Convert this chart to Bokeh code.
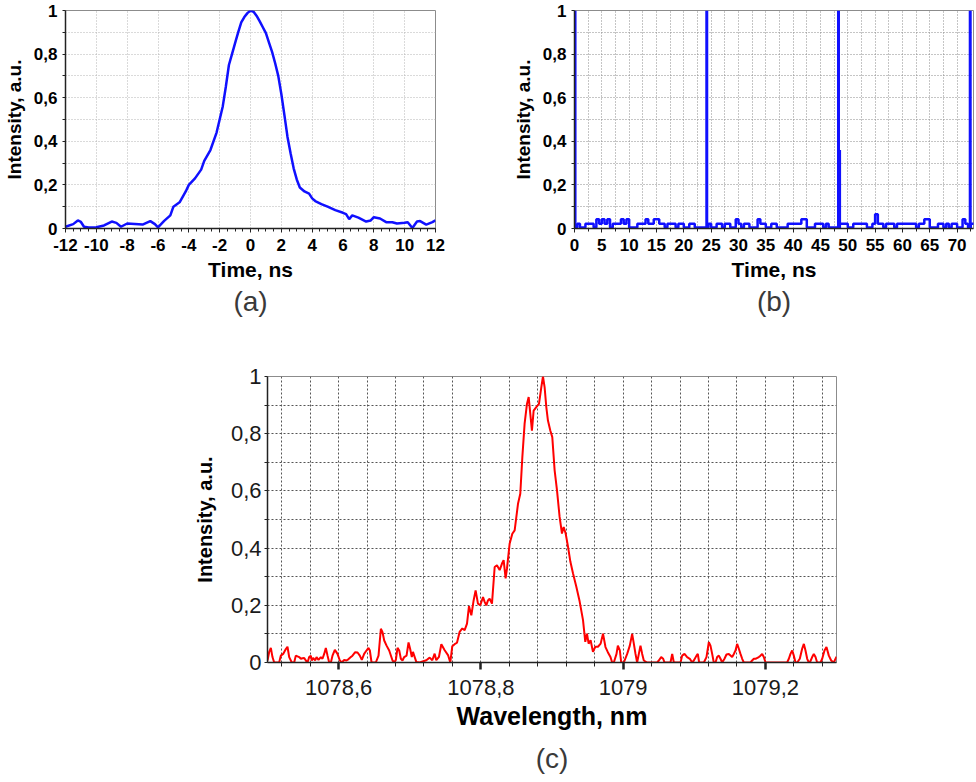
from bokeh.plotting import figure
from bokeh.models import Range1d, FixedTicker, CustomJSTickFormatter, Title
from bokeh.layouts import column, row
from bokeh.embed import file_html
from bokeh.resources import INLINE

FONT = "Liberation Sans"

# ---------------- (a) single pulse ----------------
pulse_t = [-12, -11.5, -11.2, -11, -10.8, -10.5, -10, -9.5, -9, -8.7, -8.4, -8, -7.5, -7,
           -6.5, -6.2, -6.0, -5.6, -5.2, -5.0, -4.6, -4.2, -4.0, -3.6, -3.2, -3.0, -2.6,
           -2.2, -2.0, -1.8, -1.6, -1.4, -1.2, -1.0, -0.8, -0.6, -0.4, -0.2, 0, 0.2, 0.4,
           0.6, 0.8, 1.0, 1.2, 1.4, 1.6, 1.8, 2.0, 2.2, 2.4, 2.6, 2.8, 3.0, 3.2, 3.5, 3.8,
           4.0, 4.2, 4.6, 5.0, 5.5, 6.0, 6.2, 6.4, 6.6, 7.0, 7.5, 7.8, 8.0, 8.4, 8.8, 9.2,
           9.5, 10, 10.2, 10.5, 10.8, 11.0, 11.4, 11.8, 12]
pulse_i = [0.008, 0.02, 0.037, 0.03, 0.008, 0.005, 0.006, 0.014, 0.032, 0.026, 0.008, 0.023,
           0.021, 0.018, 0.034, 0.02, 0.005, 0.035, 0.06, 0.10, 0.12, 0.17, 0.20, 0.23, 0.27,
           0.31, 0.36, 0.44, 0.50, 0.56, 0.65, 0.75, 0.80, 0.85, 0.90, 0.945, 0.97, 0.988,
           1.0, 0.994, 0.975, 0.95, 0.923, 0.896, 0.853, 0.81, 0.758, 0.70, 0.617, 0.52,
           0.42, 0.345, 0.276, 0.225, 0.188, 0.17, 0.16, 0.138, 0.126, 0.112, 0.10, 0.084,
           0.072, 0.066, 0.043, 0.06, 0.05, 0.032, 0.037, 0.052, 0.046, 0.029, 0.029, 0.023,
           0.026, 0.029, 0.002, 0.032, 0.034, 0.018, 0.029, 0.037]
a_xticks = [-12, -10, -8, -6, -4, -2, 0, 2, 4, 6, 8, 10, 12]
y_ticks = [0, 0.2, 0.4, 0.6, 0.8, 1.0]
y_minor = [0.1, 0.3, 0.5, 0.7, 0.9]

# ---------------- (b) pulse train ----------------
noise_t = [0.0, 0.5, 1.0, 2.0, 3.5, 4.0, 4.5, 5.0, 5.5, 6.0, 6.5, 7.0, 8.5, 9.0, 9.5, 10.0,
           11.5, 13.0, 13.5, 14.5, 15.5, 16.5, 17.0, 18.5, 19.0, 20.0, 21.0, 22.0, 24.5, 25.0,
           26.0, 27.0, 27.5, 28.5, 29.5, 30.0, 30.5, 31.0, 32.0, 33.5, 34.0, 35.0, 36.0, 37.0,
           39.0, 41.5, 42.5, 44.0, 45.5, 46.0, 46.5, 48.5, 50.0, 51.0, 53.5, 54.5, 55.0, 55.5,
           56.5, 57.0, 58.5, 59.0, 62.5, 63.0, 64.0, 65.0, 66.5, 67.5, 68.0, 68.5, 69.0, 70.0,
           71.0, 71.5, 72.0, 72.5, 73.5]
noise_i = [0.005, 0.022, 0.005, 0.022, 0.005, 0.042, 0.022, 0.042, 0.022, 0.042, 0.005, 0.022,
           0.042, 0.022, 0.042, 0.005, 0.022, 0.042, 0.022, 0.042, 0.022, 0.005, 0.022, 0.005,
           0.022, 0.005, 0.022, 0.005, 0.022, 0.005, 0.022, 0.005, 0.022, 0.005, 0.042, 0.022,
           0.005, 0.022, 0.005, 0.042, 0.022, 0.005, 0.022, 0.005, 0.022, 0.042, 0.005, 0.022,
           0.005, 0.022, 0.005, 0.022, 0.005, 0.022, 0.005, 0.022, 0.065, 0.022, 0.005, 0.022,
           0.005, 0.022, 0.005, 0.022, 0.042, 0.005, 0.022, 0.005, 0.022, 0.005, 0.022, 0.005,
           0.042, 0.022, 0.005, 0.022, 0.022]
spike_t = [0.1, 24.2, 48.3, 48.5, 72.4]
spike_i = [1.0, 1.0, 1.0, 0.36, 1.0]
b_xticks = [0, 5, 10, 15, 20, 25, 30, 35, 40, 45, 50, 55, 60, 65, 70]
b_xminor = [2.5, 7.5, 12.5, 17.5, 22.5, 27.5, 32.5, 37.5, 42.5, 47.5, 52.5, 57.5, 62.5, 67.5, 72.5]

# ---------------- (c) spectrum ----------------
lam = [1078.5, 1078.5023, 1078.5047, 1078.507, 1078.5094, 1078.5164, 1078.5187, 1078.522,
       1078.5258, 1078.5281, 1078.5305, 1078.5342, 1078.5375, 1078.5398, 1078.5445, 1078.5469,
       1078.5492, 1078.5516, 1078.5539, 1078.5563, 1078.5586, 1078.5609, 1078.5623, 1078.5642,
       1078.567, 1078.5689, 1078.5717, 1078.575, 1078.5773, 1078.5797, 1078.582, 1078.5844,
       1078.5867, 1078.5891, 1078.5914, 1078.5947, 1078.5984, 1078.6017, 1078.6045, 1078.6078,
       1078.6111, 1078.614, 1078.6172, 1078.6195, 1078.6233, 1078.6266, 1078.6298, 1078.6326,
       1078.6359, 1078.6392, 1078.642, 1078.6439, 1078.6463, 1078.6523, 1078.6561, 1078.6594,
       1078.6617, 1078.6641, 1078.6674, 1078.6711, 1078.6758, 1078.6781, 1078.6805, 1078.6828,
       1078.6852, 1078.6875, 1078.6898, 1078.6922, 1078.6955, 1078.6983, 1078.7006, 1078.7029,
       1078.7045, 1078.7092, 1078.7139, 1078.7233, 1078.728, 1078.7317, 1078.735, 1078.7373,
       1078.7411, 1078.7444, 1078.7491, 1078.7538, 1078.757, 1078.7598, 1078.7631, 1078.7664,
       1078.7701, 1078.7739, 1078.7772, 1078.7805, 1078.7833, 1078.7866, 1078.7898, 1078.7926,
       1078.7959, 1078.7992, 1078.803, 1078.8053, 1078.8076, 1078.81, 1078.8123, 1078.8156,
       1078.8194, 1078.8226, 1078.8264, 1078.8297, 1078.832, 1078.8348, 1078.8367, 1078.8404,
       1078.8442, 1078.8475, 1078.8522, 1078.8554, 1078.8583, 1078.8615, 1078.8648, 1078.8672,
       1078.8695, 1078.8718, 1078.8742, 1078.8779, 1078.8817, 1078.885, 1078.8873, 1078.8896,
       1078.892, 1078.8943, 1078.8976, 1078.9004, 1078.9037, 1078.907, 1078.9107, 1078.914,
       1078.9164, 1078.9192, 1078.9225, 1078.9258, 1078.9295, 1078.9342, 1078.9389, 1078.9436,
       1078.9468, 1078.9492, 1078.9515, 1078.9543, 1078.9576, 1078.9609, 1078.9646, 1078.9684,
       1078.9717, 1078.9752, 1078.9785, 1078.9822, 1078.9846, 1078.9869, 1078.9907, 1078.9926,
       1078.9954, 1078.9973, 1079.001, 1079.0057, 1079.0094, 1079.0127, 1079.0151, 1079.0174,
       1079.0197, 1079.0221, 1079.0244, 1079.0268, 1079.0291, 1079.0338, 1079.0479, 1079.0502,
       1079.0535, 1079.0563, 1079.0582, 1079.0666, 1079.069, 1079.0713, 1079.0807, 1079.083,
       1079.0863, 1079.09, 1079.0938, 1079.0971, 1079.0994, 1079.1032, 1079.105, 1079.1069,
       1079.1135, 1079.1172, 1079.1205, 1079.1228, 1079.1252, 1079.1275, 1079.1299, 1079.1322,
       1079.1346, 1079.1369, 1079.1393, 1079.1425, 1079.1453, 1079.1486, 1079.1533, 1079.1557,
       1079.158, 1079.1603, 1079.1627, 1079.165, 1079.1674, 1079.1697, 1079.1791, 1079.1814,
       1079.1838, 1079.1861, 1079.1908, 1079.1931, 1079.1955, 1079.1978, 1079.2002, 1079.2306,
       1079.233, 1079.2353, 1079.2377, 1079.24, 1079.2424, 1079.2447, 1079.2484, 1079.2517,
       1079.2541, 1079.2564, 1079.2588, 1079.2611, 1079.2625, 1079.2658, 1079.2681, 1079.2705,
       1079.2728, 1079.2775, 1079.2799, 1079.2831, 1079.2859, 1079.2892, 1079.2925, 1079.2962,
       1079.3]
spec = [0.007, 0.036, 0.051, 0.019, 0.0, 0.0, 0.024, 0.030, 0.047, 0.055, 0.019, 0.0, 0.0,
        0.024, 0.019, 0.013, 0.015, 0.016, 0.007, 0.0, 0.019, 0.024, 0.007, 0.016, 0.007,
        0.019, 0.009, 0.019, 0.013, 0.030, 0.051, 0.024, 0.0, 0.0, 0.024, 0.044, 0.030, 0.007,
        0.0, 0.009, 0.007, 0.012, 0.019, 0.024, 0.036, 0.035, 0.024, 0.009, 0.030, 0.042,
        0.051, 0.042, 0.0, 0.0, 0.024, 0.118, 0.106, 0.077, 0.059, 0.042, 0.007, 0.0, 0.009,
        0.051, 0.042, 0.013, 0.007, 0.019, 0.024, 0.070, 0.047, 0.019,
        0.037, 0.002, 0.0, 0.008, 0.017, 0.008, 0.031, 0.008, 0.020, 0.064, 0.043, 0.026, 0.0,
        0.057, 0.064, 0.069, 0.107, 0.119, 0.113, 0.136, 0.197, 0.165, 0.217, 0.252, 0.206,
        0.200, 0.229, 0.212, 0.200, 0.217, 0.223, 0.206, 0.334, 0.340, 0.323, 0.346, 0.358,
        0.294, 0.328, 0.415, 0.450, 0.462, 0.555, 0.590, 0.718, 0.835, 0.904, 0.928, 0.869,
        0.811, 0.881, 0.893, 0.904, 0.963, 1.0, 0.963, 0.893, 0.846, 0.811, 0.788, 0.672,
        0.603, 0.509, 0.451, 0.474, 0.451, 0.405, 0.353, 0.312, 0.265, 0.213, 0.148, 0.072,
        0.101, 0.066, 0.078, 0.037, 0.055, 0.055, 0.066, 0.101,
        0.054, 0.036, 0.019, 0.0, 0.0, 0.030, 0.059, 0.042, 0.0, 0.0, 0.030, 0.059, 0.100,
        0.065, 0.030, 0.0, 0.030, 0.059, 0.030, 0.007, 0.0, 0.0, 0.007, 0.019, 0.013, 0.0,
        0.0, 0.030, 0.0, 0.0, 0.024, 0.030, 0.019, 0.013, 0.0, 0.007, 0.024, 0.030, 0.0, 0.0,
        0.019, 0.071, 0.059, 0.030, 0.0, 0.0, 0.019, 0.024, 0.013, 0.0, 0.013, 0.028, 0.030,
        0.019, 0.030, 0.042, 0.065, 0.048, 0.030, 0.013, 0.0, 0.0, 0.007, 0.013, 0.013, 0.019,
        0.024, 0.030, 0.019, 0.0, 0.0, 0.013, 0.030, 0.042, 0.024, 0.0, 0.0, 0.013, 0.048,
        0.065, 0.042, 0.013, 0.0, 0.0, 0.019, 0.030, 0.019, 0.0, 0.0, 0.013, 0.042, 0.054,
        0.024, 0.007, 0.0, 0.02]
c_xticks = [1078.6, 1078.8, 1079.0, 1079.2]
c_xminor = [round(1078.52 + 0.04 * k, 2) for k in range(20) if round(1078.52 + 0.04 * k, 2) not in c_xticks]

COMMA = CustomJSTickFormatter(code="const r = Math.round(tick*10)/10; return String(r).replace('.', ',');")


def style(p, tick_size, tick_style, xlabel_size, ylabel_size, grid_color, grid_dash, tick_color="#000000"):
    for ax in (p.xaxis[0], p.yaxis[0]):
        ax.axis_line_color = "#222222"
        ax.axis_line_width = 1.5
        ax.major_label_text_font = FONT
        ax.major_label_text_font_size = tick_size
        ax.major_label_text_font_style = tick_style
        ax.major_label_text_color = tick_color
        ax.axis_label_text_font = FONT
        ax.axis_label_text_font_style = "bold"
        ax.axis_label_text_color = "#000000"
        ax.major_tick_in = 0
        ax.minor_tick_in = 0
        ax.major_tick_line_color = "#222222"
        ax.minor_tick_line_color = "#222222"
        ax.formatter = COMMA
    p.xaxis.axis_label_text_font_size = xlabel_size
    p.yaxis.axis_label_text_font_size = ylabel_size
    p.outline_line_color = "#8c8c8c"
    p.outline_line_width = 1
    for g in (p.xgrid[0], p.ygrid[0]):
        g.grid_line_color = grid_color
        g.grid_line_dash = grid_dash
        g.grid_line_width = 1
        g.minor_grid_line_color = grid_color
        g.minor_grid_line_dash = grid_dash
        g.minor_grid_line_width = 1


def caption(p, txt, size, standoff):
    p.add_layout(Title(text=txt, align="center", text_font=FONT, text_font_size=size,
                       text_font_style="normal", text_color="#3a3a3a", standoff=standoff), "below")


# ---------- figure (a) ----------
pa = figure(width=490, height=342, output_backend="svg", toolbar_location=None,
            x_range=Range1d(-12, 12), y_range=Range1d(0, 1),
            min_border_left=61, min_border_right=55, min_border_top=10, min_border_bottom=114)
style(pa, "17px", "bold", "21px", "19px", "#b4b4b4", "1 2")
pa.xaxis.ticker = FixedTicker(ticks=a_xticks, minor_ticks=[-12 + 0.5 * k for k in range(49)])
pa.xgrid.ticker = FixedTicker(ticks=a_xticks)
pa.xgrid.minor_grid_line_color = None
pa.yaxis.ticker = FixedTicker(ticks=y_ticks, minor_ticks=y_minor)
pa.xaxis.major_tick_out = 4
pa.xaxis.minor_tick_out = 3
pa.yaxis.major_tick_out = 3
pa.yaxis.minor_tick_out = 3
pa.xaxis.major_label_standoff = 6
pa.yaxis.major_label_standoff = 5
pa.xaxis.axis_label = "Time, ns"
pa.yaxis.axis_label = "Intensity, a.u."
pa.xaxis.axis_label_standoff = 4
pa.yaxis.axis_label_standoff = 6
pa.line(pulse_t, pulse_i, line_color="#1010ff", line_width=2.5)
caption(pa, "(a)", "28px", 0)

# ---------- figure (b) ----------
pb = figure(width=484, height=342, output_backend="svg", toolbar_location=None,
            x_range=Range1d(0, 73.0), y_range=Range1d(0, 1),
            min_border_left=84, min_border_right=1, min_border_top=10, min_border_bottom=114)
style(pb, "17px", "bold", "21px", "19px", "#8a8a8a", "1 2")
pb.xaxis.ticker = FixedTicker(ticks=b_xticks, minor_ticks=b_xminor)
pb.yaxis.ticker = FixedTicker(ticks=y_ticks, minor_ticks=y_minor)
pb.xaxis.major_tick_out = 4
pb.xaxis.minor_tick_out = 3
pb.yaxis.major_tick_out = 3
pb.yaxis.minor_tick_out = 3
pb.xaxis.major_label_standoff = 6
pb.yaxis.major_label_standoff = 5
pb.xaxis.axis_label = "Time, ns"
pb.yaxis.axis_label = "Intensity, a.u."
pb.xaxis.axis_label_standoff = 4
pb.yaxis.axis_label_standoff = 6
pb.step(noise_t, noise_i, mode="after", line_color="#1010ff", line_width=2.5)
pb.segment(x0=spike_t, y0=[0] * len(spike_t), x1=spike_t, y1=spike_i,
           line_color="#1010ff", line_width=3)
caption(pb, "(b)", "28px", 0)

# ---------- figure (c) ----------
pc = figure(width=974, height=439, output_backend="svg", toolbar_location=None,
            x_range=Range1d(1078.5, 1079.3), y_range=Range1d(0, 1),
            min_border_left=267, min_border_right=138, min_border_top=34, min_border_bottom=118)
style(pc, "22px", "normal", "25px", "20px", "#555555", "2 2", tick_color="#1a1a1a")
pc.xaxis.ticker = FixedTicker(ticks=c_xticks, minor_ticks=c_xminor)
pc.yaxis.ticker = FixedTicker(ticks=y_ticks, minor_ticks=y_minor)
pc.xaxis.major_tick_out = 7
pc.xaxis.major_tick_line_width = 2.5
pc.xaxis.minor_tick_out = 4
pc.yaxis.major_tick_out = 3
pc.yaxis.minor_tick_out = 3
pc.xaxis.major_label_standoff = 10
pc.yaxis.major_label_standoff = 3
pc.xaxis.axis_label = "Wavelength, nm"
pc.yaxis.axis_label = "Intensity, a.u."
pc.xaxis.axis_label_standoff = 4
pc.yaxis.axis_label_standoff = 12
pc.line(lam, spec, line_color="#ff0000", line_width=2)
caption(pc, "(c)", "28px", 16)

layout = column(row(pa, pb), pc)
open("out.html", "w").write(file_html(layout, INLINE))
